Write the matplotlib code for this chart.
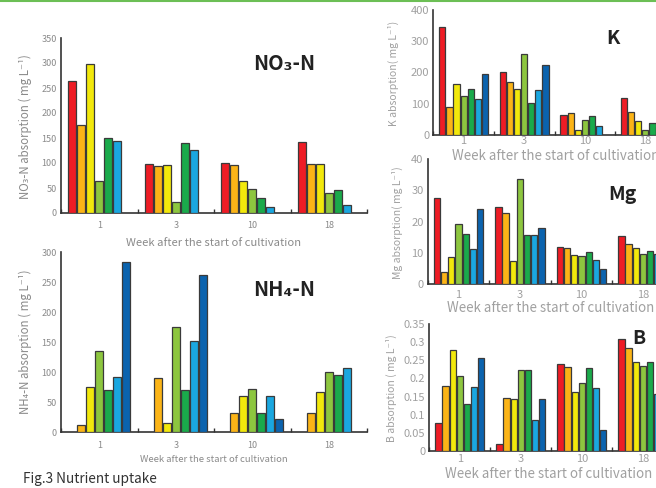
import matplotlib
matplotlib.use("Agg")
import matplotlib.pyplot as plt
from matplotlib.lines import Line2D
import numpy as np

plt.rcParams['font.family'] = ['Noto Sans CJK JP', 'DejaVu Sans']

W, H = 656, 488

weeks = ['1', '3', '10', '18']
colors = ['#ee1c25', '#fbb417', '#f2e80c', '#8dc63f', '#1aaa4b', '#1aa7e0', '#0b63ae']

# rows = series (one per colour), columns = weeks; None = no bar
no3_n = [
    [264, 99, 100, 143],
    [176, 94, 96, 99],
    [299, 96, 64, 99],
    [64, 22, 49, 41],
    [151, 141, 30, 47],
    [145, 127, 12, 16],
    [None, None, None, None],
]
nh4_n = [
    [None, None, None, None],
    [12, 90, 32, 33],
    [76, 15, 61, 68],
    [135, 175, 72, 100],
    [70, 70, 33, 95],
    [93, 152, 60, 107],
    [284, 263, 22, None],
]
k_abs = [
    [344, 200, 65, 118],
    [89, 169, 70, 75],
    [163, 148, 16, 44],
    [123, 260, 48, 15],
    [146, 102, 60, 38],
    [115, 145, 28, 25],
    [194, 225, None, None],
]
mg_abs = [
    [27.6, 24.5, 11.9, 15.5],
    [3.9, 22.8, 11.5, 12.8],
    [8.5, 7.3, 9.4, 11.4],
    [19.1, 33.7, 9.0, 9.7],
    [15.9, 15.8, 10.2, 10.6],
    [11.2, 15.8, 7.7, 9.5],
    [24.0, 17.8, 4.8, 8.0],
]
b_abs = [
    [0.078, 0.018, 0.239, 0.308],
    [0.178, 0.145, 0.232, 0.283],
    [0.278, 0.143, 0.163, 0.246],
    [0.207, 0.222, 0.188, 0.235],
    [0.130, 0.224, 0.230, 0.244],
    [0.176, 0.086, 0.175, 0.158],
    [0.255, 0.143, 0.057, 0.100],
]

fig = plt.figure(figsize=(W / 100, H / 100), dpi=100)


def make_axes(left, top, right, bottom):
    return fig.add_axes([left / W, 1 - bottom / H, (right - left) / W, (bottom - top) / H])


def draw_panel(ax, data, ymax, yticks, ytick_fmt, tick_fs, tick_color):
    slot = 0.117
    x = np.arange(len(weeks))
    for j, series in enumerate(data):
        for i, v in enumerate(series):
            if v is None:
                continue
            ax.bar(x[i] + (j - 3) * slot, v, width=0.102, color=colors[j],
                   edgecolor='#3a3a3a', linewidth=0.9, zorder=3)
    ax.set_xlim(-0.5, len(weeks) - 0.5)
    ax.set_ylim(0, ymax)
    ax.set_yticks(yticks)
    ax.set_yticklabels([ytick_fmt(t) for t in yticks])
    ax.set_xticks(x)
    ax.set_xticklabels(weeks)
    ax.set_xticks(np.arange(len(weeks) + 1) - 0.5, minor=True)
    ax.tick_params(axis='x', which='major', length=0, labelsize=tick_fs, colors=tick_color, pad=6)
    ax.tick_params(axis='x', which='minor', direction='in', length=3, width=1, color='#333333')
    ax.tick_params(axis='y', length=0, labelsize=tick_fs, colors=tick_color, pad=3)
    for s in ['top', 'right']:
        ax.spines[s].set_visible(False)
    for s in ['left', 'bottom']:
        ax.spines[s].set_color('#333333')
        ax.spines[s].set_linewidth(1.2)


def fmt_int(t):
    return str(int(t))


def fmt_b(t):
    return '0' if t == 0 else ('%g' % t)


left_gray = '#8a8a8a'
right_gray = '#a0a0a0'

# NO3-N
ax1 = make_axes(61, 38, 367, 213)
draw_panel(ax1, no3_n, 350, np.arange(0, 351, 50), fmt_int, 6.5, left_gray)
fig.text(284 / W, 1 - 63 / H, 'NO₃-N', ha='center', va='center',
         fontsize=14.5, fontweight='bold', color='#222222')
fig.text(214 / W, 1 - 243 / H, 'Week after the start of cultivation', ha='center', va='center',
         fontsize=8.1, color=left_gray)
fig.text(25 / W, 1 - 127 / H, 'NO₃-N absorption ( mg L⁻¹)', rotation=90, ha='center', va='center',
         fontsize=8.3, color=left_gray)

# NH4-N
ax2 = make_axes(61, 252.3, 367, 432.3)
draw_panel(ax2, nh4_n, 300, np.arange(0, 301, 50), fmt_int, 6.5, left_gray)
fig.text(284 / W, 1 - 290 / H, 'NH₄-N', ha='center', va='center',
         fontsize=14.5, fontweight='bold', color='#222222')
fig.text(214 / W, 1 - 460 / H, 'Week after the start of cultivation', ha='center', va='center',
         fontsize=6.85, color=left_gray)
fig.text(25 / W, 1 - 342 / H, 'NH₄-N absorption ( mg L⁻¹)', rotation=90, ha='center', va='center',
         fontsize=8.3, color=left_gray)

# K
ax3 = make_axes(433.3, 9.7, 675.7, 135)
draw_panel(ax3, k_abs, 400, np.arange(0, 401, 100), fmt_int, 8, right_gray)
ax3.tick_params(axis='x', which='major', pad=1)
fig.text(613 / W, 1 - 38 / H, 'K', ha='center', va='center',
         fontsize=14, fontweight='bold', color='#222222')
fig.text(452 / W, 1 - 156 / H, 'Week after the start of cultivation', ha='left', va='center',
         fontsize=9.6, color=right_gray)
fig.text(393 / W, 1 - 73 / H, 'K absorption( mg L⁻¹)', rotation=90, ha='center', va='center',
         fontsize=7.5, color=right_gray)

# Mg
ax4 = make_axes(427.7, 159, 673.7, 284)
draw_panel(ax4, mg_abs, 40, np.arange(0, 41, 10), fmt_int, 8, right_gray)
ax4.tick_params(axis='x', which='major', pad=4)
fig.text(622 / W, 1 - 195 / H, 'Mg', ha='center', va='center',
         fontsize=14, fontweight='bold', color='#222222')
fig.text(447 / W, 1 - 308 / H, 'Week after the start of cultivation', ha='left', va='center',
         fontsize=9.6, color=right_gray)
fig.text(397 / W, 1 - 223 / H, 'Mg absorption( mg L⁻¹)', rotation=90, ha='center', va='center',
         fontsize=7.5, color=right_gray)

# B
ax5 = make_axes(429.3, 324, 673.3, 451)
draw_panel(ax5, b_abs, 0.35, np.arange(0, 0.351, 0.05).round(2), fmt_b, 8, right_gray)
ax5.tick_params(axis='x', which='major', pad=2)
fig.text(639 / W, 1 - 339 / H, 'B', ha='center', va='center',
         fontsize=14, fontweight='bold', color='#222222')
fig.text(445 / W, 1 - 474 / H, 'Week after the start of cultivation', ha='left', va='center',
         fontsize=9.6, color=right_gray)
fig.text(391 / W, 1 - 388 / H, 'B absorption ( mg L⁻¹)', rotation=90, ha='center', va='center',
         fontsize=7.5, color=right_gray)

# caption and top rule
fig.text(23 / W, 1 - 479.5 / H, 'Fig.3 Nutrient uptake', ha='left', va='center',
         fontsize=9.8, color='#333333')
fig.add_artist(Line2D([0, 1], [1 - 1 / H, 1 - 1 / H], transform=fig.transFigure,
                      color='#6cbf55', linewidth=1.5))

fig.savefig('out.png', dpi=100)
